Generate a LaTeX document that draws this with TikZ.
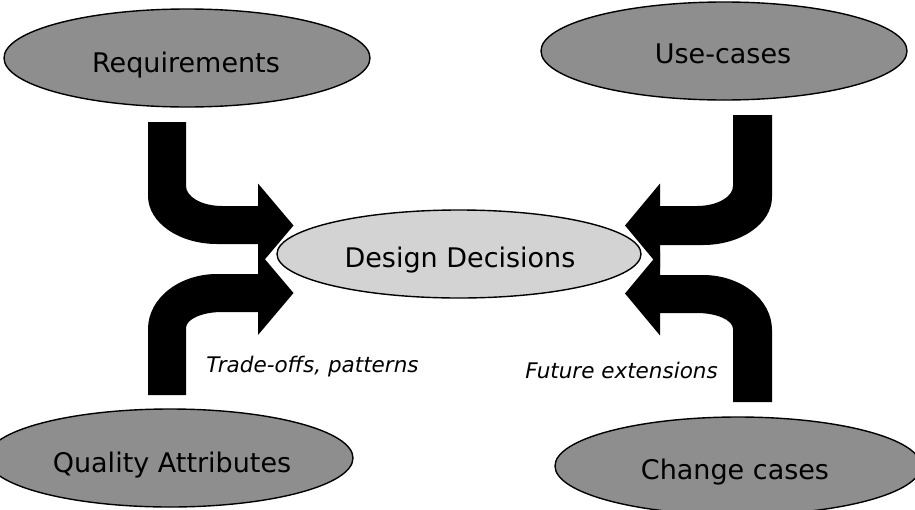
\documentclass[tikz,border=0pt]{standalone}
\usepackage{fontspec}
\setmainfont{DejaVu Sans}
\usetikzlibrary{shapes.geometric}
\definecolor{outergray}{HTML}{8E8E8E}
\definecolor{innergray}{HTML}{D3D3D3}
\tikzset{
  outerell/.style={ellipse, draw=black, line width=1.4pt, fill=outergray, minimum width=366pt, minimum height=98pt, inner sep=0pt},
  innerell/.style={ellipse, draw=black, line width=1.4pt, fill=innergray, minimum width=364pt, minimum height=88pt, inner sep=0pt},
  bigtxt/.style={anchor=base, inner sep=0pt, font=\fontsize{27}{32}\selectfont},
  smalltxt/.style={anchor=base, inner sep=0pt, font=\fontsize{21.5}{26}\selectfont\itshape},
  bentarrow/.style={fill=black}
}
\begin{document}
\begin{tikzpicture}[x=1pt,y=-1pt]
\clip (0,0) rectangle (915,509);
\fill[white] (0,0) rectangle (915,509);

% ellipses
\node[outerell] (req) at (187,58) {};
\node[outerell] (use) at (724,51) {};
\node[outerell] (qual) at (170,458) {};
\node[outerell] (chg) at (738,466) {};
\node[innerell] (dd) at (459,254) {};

% texts
\node[bigtxt] (treq) at (186,72) {Requirements};
\node[bigtxt] (tuse) at (723,63) {Use-cases};
\node[bigtxt] (tqual) at (172,472) {Quality Attributes};
\node[bigtxt] (tchg) at (735,479) {Change cases};
\node[bigtxt] (tdd) at (460,267) {Design Decisions};
\node[smalltxt] (ttrade) at (312.5,372) {Trade-offs, patterns};
\node[smalltxt] (tfut) at (621.5,378) {Future extensions};

% top-left bent arrow (Requirements -> Design Decisions)
\fill[bentarrow] (148,122) -- (148,196)
  .. controls (148,222.5) and (178.9,244) .. (217,244)
  -- (258,244) -- (258,267.5) -- (293.5,225.5) -- (258,183.5) -- (258,206)
  -- (222,206) .. controls (202.1,206) and (186,197) .. (186,186)
  -- (186,122) -- cycle;

% bottom-left bent arrow (Quality Attributes -> Design Decisions)
\fill[bentarrow] (148,395) -- (148,329)
  .. controls (148,298.6) and (178.9,274) .. (217,274)
  -- (258,274) -- (258,251) -- (293.5,293) -- (258,335) -- (258,312)
  -- (222,312) .. controls (202.1,312) and (186,319.2) .. (186,328)
  -- (186,395) -- cycle;

% top-right bent arrow (Use-cases -> Design Decisions)
\fill[bentarrow] (772,115) -- (772,197)
  .. controls (772,223.5) and (741.1,245) .. (703,245)
  -- (660,245) -- (660,267.5) -- (625,225.5) -- (660,183.5) -- (660,206)
  -- (697,206) .. controls (716.9,206) and (733,197) .. (733,186)
  -- (733,115) -- cycle;

% bottom-right bent arrow (Change cases -> Design Decisions)
\fill[bentarrow] (772,402) -- (772,330)
  .. controls (772,299.6) and (741.1,275) .. (703,275)
  -- (660,275) -- (660,251.5) -- (625,293.5) -- (660,335.5) -- (660,313)
  -- (697,313) .. controls (716.9,313) and (733,320.2) .. (733,329)
  -- (733,402) -- cycle;
\end{tikzpicture}
\end{document}
